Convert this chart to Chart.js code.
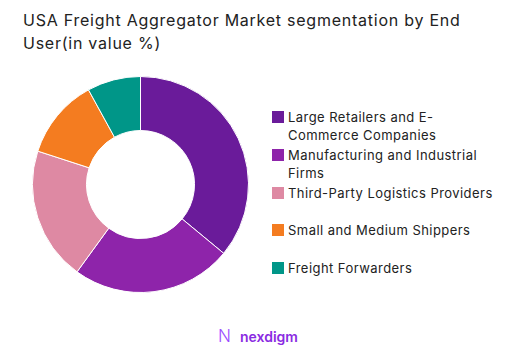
<!DOCTYPE html>
<html>
<head>
<meta charset="utf-8">
<script src="https://cdn.jsdelivr.net/npm/chart.js@4/dist/chart.umd.min.js"></script>
<style>
  body { margin: 0; width: 509px; height: 362px; background: #fff; font-family: Inter, "Noto Sans", sans-serif; overflow: hidden; position: relative; }
  #title { position: absolute; left: 23px; top: 9px; width: 486px; font-size: 16px; line-height: 23px; letter-spacing: 0.75px; color: #222; }
  #chart-box { position: absolute; left: 32px; top: 76px; width: 217px; height: 217px; }
  #legend { position: absolute; left: 272px; top: 108px; width: 237px; }
  .item { position: relative; height: 37.8px; font-size: 13px; line-height: 18px; letter-spacing: 0.45px; color: #222; padding-left: 16px; }
  .swatch { position: absolute; left: 0; top: 3px; width: 12px; height: 12px; }
  #logo { position: absolute; left: 218px; top: 326px; font-size: 14px; font-weight: 600; color: #8a2be2; }
  #logo span { font-weight: 300; font-size: 17px; margin-right: 9px; color: #9b4dff; }
</style>
</head>
<body>
<div id="title">USA Freight Aggregator Market segmentation by End<br>User(in value %)</div>
<div id="chart-box"><canvas id="donut-chart"></canvas></div>
<div id="legend"></div>
<div id="logo"><span>N</span>nexdigm</div>
<script>
var labels = [
  'Large Retailers and E-Commerce Companies',
  'Manufacturing and Industrial Firms',
  'Third-Party Logistics Providers',
  'Small and Medium Shippers',
  'Freight Forwarders'
];
var legendLines = [
  ['Large Retailers and E-', 'Commerce Companies'],
  ['Manufacturing and Industrial', 'Firms'],
  ['Third-Party Logistics Providers'],
  ['Small and Medium Shippers'],
  ['Freight Forwarders']
];
var values = [36, 24, 20, 12, 8];
var colors = ['#6a1b9a', '#8e24aa', '#de89a3', '#f47c20', '#009688'];

function drawLegend() {
  var legend = document.getElementById('legend');
  legendLines.forEach(function (lines, i) {
    var item = document.createElement('div');
    item.className = 'item';
    var sw = document.createElement('div');
    sw.className = 'swatch';
    sw.style.background = colors[i];
    item.appendChild(sw);
    item.insertAdjacentHTML('beforeend', lines.join('<br>'));
    legend.appendChild(item);
  });
}

function drawDonutChart() {
  var ctx = document.getElementById('donut-chart').getContext('2d');
  new Chart(ctx, {
    type: 'doughnut',
    data: {
      labels: labels,
      datasets: [{
        data: values,
        backgroundColor: colors,
        borderColor: '#ffffff',
        borderWidth: 1
      }]
    },
    options: {
      responsive: true,
      maintainAspectRatio: false,
      animation: false,
      cutout: '50%',
      layout: { padding: 0 },
      plugins: {
        legend: { display: false },
        tooltip: { enabled: false }
      }
    }
  });
}

drawLegend();
drawDonutChart();
</script>
</body>
</html>
